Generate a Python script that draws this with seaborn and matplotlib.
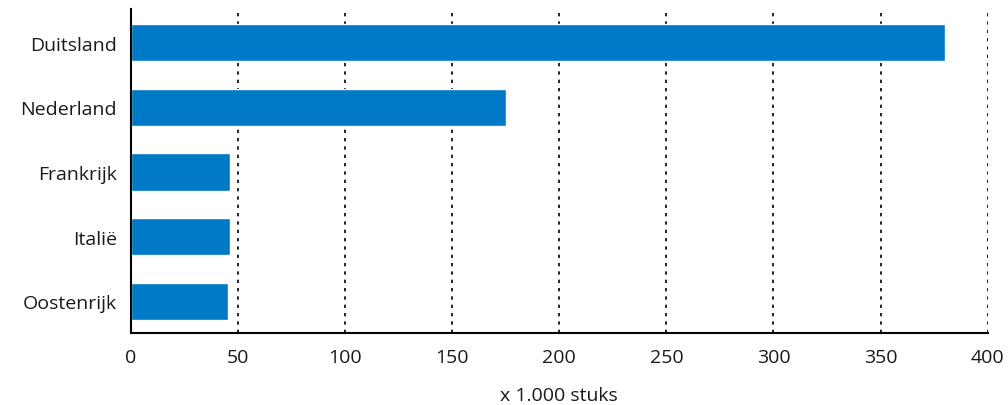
import matplotlib
matplotlib.use("Agg")
import matplotlib.pyplot as plt
import seaborn as sns
import pandas as pd

landen = ["Duitsland", "Nederland", "Frankrijk", "Italië", "Oostenrijk"]
aantallen = [380, 175, 46.3, 46.3, 45.5]
x_ticks = [0, 50, 100, 150, 200, 250, 300, 350, 400]

df = pd.DataFrame({"land": landen, "aantal": aantallen})

sns.set_theme(style="white")
plt.rcParams["font.family"] = ["Open Sans", "DejaVu Sans"]

fig = plt.figure(figsize=(10.08, 4.06), dpi=100)
ax = fig.add_axes([0.1297, 0.1773, 0.8502, 0.7981])

ax.set_axisbelow(True)
for t in x_ticks[1:]:
    ax.axvline(t, color="black", linestyle=(0, (2, 3)), linewidth=1.2, zorder=0)

sns.barplot(data=df, x="aantal", y="land", orient="h", color="#007AC7",
            saturation=1, width=0.58, ax=ax, zorder=2)

ax.set_xlim(0, 400)
ax.set_ylim(4.49, -0.52)
ax.set_xticks(x_ticks)
ax.set_xticklabels([str(t) for t in x_ticks])
ax.tick_params(axis="both", length=0, labelsize=14, colors="#1A1A1A")
ax.tick_params(axis="y", pad=10)
ax.tick_params(axis="x", pad=11)
ax.set_xlabel("x 1.000 stuks", fontsize=14, color="#1A1A1A", labelpad=14)
ax.set_ylabel("")

for s in ["top", "right"]:
    ax.spines[s].set_visible(False)
for s in ["left", "bottom"]:
    ax.spines[s].set_color("black")
    ax.spines[s].set_linewidth(1.5)

fig.savefig("out.png", dpi=100, facecolor="white")
